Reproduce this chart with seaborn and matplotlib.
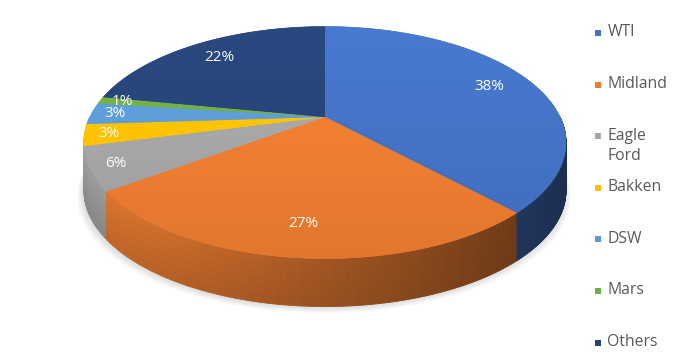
import numpy as np
import matplotlib
matplotlib.use("Agg")
import matplotlib.pyplot as plt
import seaborn as sns
from matplotlib.colors import to_rgb
from matplotlib.collections import PolyCollection
from matplotlib.patches import Polygon

# ---- data ----
categories = ["WTI", "Midland", "Eagle\nFord", "Bakken", "DSW", "Mars", "Others"]
shares = [38, 27, 6, 3, 3, 1, 22]
colors = ["#4472C4", "#ED7D31", "#A5A5A5", "#FFC000", "#5B9BD5", "#70AD47", "#264478"]

sns.set_theme(style="white")
plt.rcParams['font.family'] = ['Open Sans', 'DejaVu Sans']

fig = plt.figure(figsize=(6.8, 3.59), dpi=100)
ax = fig.add_axes([0, 0, 1, 1])
ax.set_xlim(0, 680)
ax.set_ylim(359, 0)
ax.axis('off')

# ---- geometry of the tilted (perspective) disc ----
CX, VY = 325, 117
RX, RY = 241, 116
K = 0.22
DEPTH = 48


def proj(theta_deg, r=1.0):
    t = np.radians(theta_deg)
    u = r * np.cos(t)
    w = r * np.sin(t)
    den = 1 + K * w
    X = u / den * RX * np.sqrt(1 - K ** 2)
    Y = w / den * RY * (1 - K ** 2)
    return CX + X, VY - Y


fracs = np.array(shares, dtype=float) / np.sum(shares)
bounds = 90 - 360 * np.concatenate([[0], np.cumsum(fracs)])

# ---- soft shadow ----
th = np.linspace(-185, 5, 200)
sx, sy = proj(th)
for s in range(7):
    grow = 1 + 0.004 * s
    px = CX + (sx - CX) * grow - 1
    py = sy + DEPTH + 1 + s * 0.9
    ax.fill(np.concatenate([px, [px[-1], px[0]]]),
            np.concatenate([py, [VY + 40, VY + 40]]),
            color="#8a8a8a", alpha=0.045, lw=0, zorder=1)

# ---- side wall ----
step = 0.5
thetas = np.arange(-180, 0, step)
xl, _ = proj(-167.3)
xr, _ = proj(-12.7)
NV = 6
quads, qcols, keys = [], [], []
for a in thetas:
    b = a + step
    mid = (a + b) / 2
    idx = int(np.searchsorted(-bounds, -mid) - 1)
    idx = min(max(idx, 0), len(shares) - 1)
    x1, y1 = proj(a)
    x2, y2 = proj(b)
    frac = np.clip(((x1 + x2) / 2 - xl) / (xr - xl), 0, 1)
    fh = 0.96 - 0.55 * frac
    base = np.array(to_rgb(colors[idx]))
    for v in range(NV):
        d0 = DEPTH * v / NV
        d1 = DEPTH * (v + 1) / NV
        fv = 1 - 0.14 * (v + 0.5) / NV * (1 - frac)
        c = tuple(np.clip(base * fh * fv, 0, 1))
        quads.append([(x1, y1 + d0), (x2, y2 + d0), (x2, y2 + d1), (x1, y1 + d1)])
        qcols.append(c)
        keys.append(np.sin(np.radians(mid)))
order = np.argsort(-np.array(keys), kind="stable")
pc = PolyCollection([quads[i] for i in order],
                    facecolors=[qcols[i] for i in order],
                    edgecolors=[qcols[i] for i in order], linewidths=0.6, zorder=2)
ax.add_collection(pc)

# ---- top face with gentle vertical gradient ----
yy = np.linspace(0, 359, 360)[:, None]
grad = 1.07 - 0.12 * np.clip((yy - 26) / 232, 0, 1)
for i in range(len(shares)):
    t = np.linspace(bounds[i], bounds[i + 1], 200)
    ex, ey = proj(t)
    verts = np.column_stack([np.concatenate([[CX], ex]), np.concatenate([[VY], ey])])
    poly = Polygon(verts, closed=True, facecolor=colors[i], edgecolor=colors[i],
                   lw=0.4, zorder=3)
    ax.add_patch(poly)
    base = np.array(to_rgb(colors[i]))
    img = np.clip(grad[:, :, None] * base[None, None, :], 0, 1) * np.ones((1, 2, 1))
    im = ax.imshow(img, extent=(0, 680, 359, 0), aspect="auto", zorder=3.5,
                   interpolation="bilinear")
    im.set_clip_path(poly)

# ---- percentage labels ----
for i in range(len(shares)):
    mid = (bounds[i] + bounds[i + 1]) / 2
    r = 0.8 if shares[i] >= 10 else 0.9
    lx, ly = proj(mid, r)
    ax.text(lx, ly, f"{shares[i]}%", color="white", fontsize=11,
            ha="center", va="center", zorder=5)

# ---- legend ----
for i, cat in enumerate(categories):
    y = 33 + i * 51.6
    ax.scatter([598], [y], marker="s", s=24, color=colors[i], lw=0, zorder=5)
    ax.text(607.5, y - 8.5, cat, color="#595959", fontsize=11.3, ha="left", va="top",
            linespacing=1.35, zorder=5)

ax.set_xlim(0, 680)
ax.set_ylim(359, 0)
fig.savefig("out.png", dpi=100, facecolor="white")
